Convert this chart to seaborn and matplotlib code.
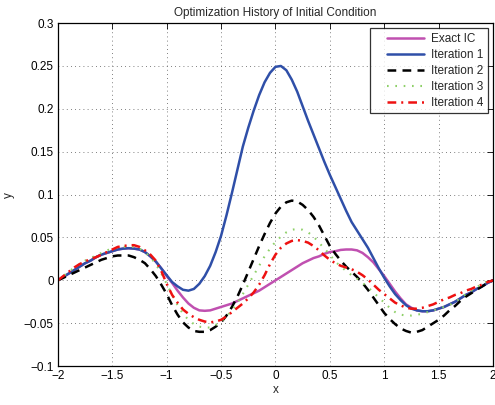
import numpy as np
import pandas as pd
import matplotlib
matplotlib.use("Agg")
import matplotlib.pyplot as plt
from matplotlib.legend_handler import HandlerLine2D
from matplotlib.lines import Line2D
import seaborn as sns

x = [-2.00, -1.95, -1.90, -1.85, -1.80, -1.75, -1.70, -1.65, -1.60, -1.55,
     -1.50, -1.45, -1.40, -1.35, -1.30, -1.25, -1.20, -1.15, -1.10, -1.05,
     -1.00, -0.95, -0.90, -0.85, -0.80, -0.75, -0.70, -0.65, -0.60, -0.55,
     -0.50, -0.45, -0.40, -0.35, -0.30, -0.25, -0.20, -0.15, -0.10, -0.05,
     0.00, 0.05, 0.10, 0.15, 0.20, 0.25, 0.30, 0.35, 0.40, 0.45,
     0.50, 0.55, 0.60, 0.65, 0.70, 0.75, 0.80, 0.85, 0.90, 0.95,
     1.00, 1.05, 1.10, 1.15, 1.20, 1.25, 1.30, 1.35, 1.40, 1.45,
     1.50, 1.55, 1.60, 1.65, 1.70, 1.75, 1.80, 1.85, 1.90, 1.95, 2.00]

exact_ic = [0.000, 0.004, 0.008, 0.012, 0.016, 0.020, 0.023, 0.027, 0.030, 0.032,
            0.034, 0.036, 0.037, 0.0375, 0.037, 0.036, 0.033, 0.028, 0.022, 0.014,
            0.005, -0.003, -0.012, -0.020, -0.027, -0.032, -0.035, -0.0355, -0.035, -0.033,
            -0.031, -0.029, -0.027, -0.024, -0.021, -0.018, -0.015, -0.012, -0.008, -0.004,
            0.000, 0.004, 0.008, 0.012, 0.016, 0.020, 0.023, 0.026, 0.028, 0.031,
            0.033, 0.034, 0.0355, 0.036, 0.036, 0.035, 0.032, 0.027, 0.021, 0.013,
            0.005, -0.004, -0.013, -0.021, -0.028, -0.032, -0.035, -0.036, -0.036, -0.035,
            -0.033, -0.031, -0.028, -0.025, -0.021, -0.017, -0.014, -0.010, -0.007, -0.003, 0.000]

iter1 = [0.000, 0.004, 0.008, 0.012, 0.016, 0.020, 0.023, 0.027, 0.030, 0.032,
         0.034, 0.036, 0.037, 0.0375, 0.037, 0.036, 0.033, 0.028, 0.022, 0.014,
         0.006, -0.002, -0.007, -0.011, -0.012, -0.010, -0.004, 0.005, 0.017, 0.033,
         0.052, 0.076, 0.102, 0.129, 0.156, 0.178, 0.198, 0.216, 0.231, 0.242,
         0.249, 0.250, 0.245, 0.234, 0.220, 0.203, 0.186, 0.170, 0.154, 0.138,
         0.123, 0.109, 0.095, 0.081, 0.068, 0.058, 0.048, 0.038, 0.026, 0.014,
         0.003, -0.007, -0.016, -0.023, -0.029, -0.033, -0.035, -0.036, -0.036, -0.035,
         -0.033, -0.031, -0.028, -0.025, -0.021, -0.017, -0.014, -0.010, -0.007, -0.003, 0.000]

iter2 = [0.000, 0.003, 0.006, 0.009, 0.012, 0.015, 0.018, 0.021, 0.024, 0.026,
         0.028, 0.029, 0.029, 0.029, 0.027, 0.024, 0.020, 0.013, 0.005, -0.005,
         -0.016, -0.029, -0.040, -0.049, -0.055, -0.059, -0.060, -0.060, -0.058, -0.054,
         -0.049, -0.041, -0.031, -0.019, -0.005, 0.010, 0.025, 0.040, 0.054, 0.067,
         0.078, 0.086, 0.091, 0.093, 0.092, 0.088, 0.082, 0.074, 0.064, 0.052,
         0.040, 0.031, 0.023, 0.016, 0.010, 0.004, -0.003, -0.011, -0.020, -0.029,
         -0.038, -0.045, -0.051, -0.056, -0.059, -0.061, -0.060, -0.058, -0.054, -0.050,
         -0.046, -0.041, -0.035, -0.030, -0.024, -0.019, -0.015, -0.011, -0.007, -0.003, 0.000]

iter3 = [0.000, 0.005, 0.010, 0.015, 0.019, 0.023, 0.026, 0.029, 0.032, 0.035,
         0.037, 0.038, 0.039, 0.0395, 0.039, 0.037, 0.033, 0.027, 0.019, 0.008,
         -0.004, -0.017, -0.029, -0.039, -0.046, -0.051, -0.054, -0.055, -0.055, -0.052,
         -0.048, -0.042, -0.035, -0.026, -0.016, -0.005, 0.006, 0.017, 0.028, 0.037,
         0.045, 0.051, 0.056, 0.059, 0.060, 0.059, 0.056, 0.051, 0.044, 0.037,
         0.030, 0.022, 0.016, 0.011, 0.006, 0.002, -0.003, -0.008, -0.014, -0.020,
         -0.026, -0.032, -0.037, -0.040, -0.041, -0.041, -0.040, -0.039, -0.037, -0.035,
         -0.033, -0.031, -0.029, -0.025, -0.021, -0.016, -0.012, -0.008, -0.004, -0.001, 0.000]

iter4 = [0.000, 0.005, 0.010, 0.015, 0.019, 0.022, 0.025, 0.027, 0.030, 0.033,
         0.036, 0.039, 0.040, 0.041, 0.041, 0.039, 0.035, 0.030, 0.023, 0.011,
         -0.004, -0.017, -0.026, -0.034, -0.039, -0.043, -0.046, -0.048, -0.049, -0.048,
         -0.046, -0.042, -0.037, -0.032, -0.027, -0.021, -0.014, -0.005, 0.006, 0.019,
         0.030, 0.038, 0.043, 0.046, 0.047, 0.046, 0.044, 0.040, 0.035, 0.029,
         0.024, 0.020, 0.017, 0.015, 0.013, 0.010, 0.006, 0.001, -0.005, -0.011,
         -0.016, -0.021, -0.026, -0.029, -0.032, -0.033, -0.033, -0.032, -0.030, -0.028,
         -0.025, -0.022, -0.020, -0.017, -0.015, -0.012, -0.010, -0.007, -0.005, -0.002, 0.000]

labels = ["Exact IC", "Iteration 1", "Iteration 2", "Iteration 3", "Iteration 4"]
x_ticks = [-2, -1.5, -1, -0.5, 0, 0.5, 1, 1.5, 2]
x_tick_labels = ["\u22122", "\u22121.5", "\u22121", "\u22120.5", "0", "0.5", "1", "1.5", "2"]
y_ticks = [-0.1, -0.05, 0, 0.05, 0.1, 0.15, 0.2, 0.25, 0.3]
y_tick_labels = ["\u22120.1", "\u22120.05", "0", "0.05", "0.1", "0.15", "0.2", "0.25", "0.3"]

sns.set_style("white")
plt.rcParams['font.family'] = ['Liberation Sans', 'DejaVu Sans']

fig = plt.figure(figsize=(4.95, 4.05), dpi=100)
ax = fig.add_axes([0.117, 0.096, 0.879, 0.847])

series = [exact_ic, iter1, iter2, iter3, iter4]
styles = [
    dict(color="#C050B0", linestyle="-", linewidth=1.8),
    dict(color="#2F4FA8", linestyle="-", linewidth=1.8),
    dict(color="black", linestyle=(0, (3.5, 2.5)), linewidth=1.8),
    dict(color="#8ED068", linestyle=(0, (0.8, 3.2)), linewidth=1.5),
    dict(color="#EE1111", linestyle=(0, (3.5, 2.0, 0.8, 2.0)), linewidth=1.8),
]
for vals, lab, st in zip(series, labels, styles):
    df = pd.DataFrame({"x": x, "y": vals})
    sns.lineplot(data=df, x="x", y="y", ax=ax, label=lab, **st)

ax.set_xlim(-2, 2)
ax.set_ylim(-0.1, 0.3)
ax.set_xticks(x_ticks)
ax.set_xticklabels(x_tick_labels)
ax.set_yticks(y_ticks)
ax.set_yticklabels(y_tick_labels)
ax.tick_params(direction="in", length=4, width=0.6, top=True, right=True,
               labelsize=8.5, pad=3, colors="black")
ax.grid(True, linestyle=(0, (1, 4)), color="#555555", linewidth=0.6)
for sp in ax.spines.values():
    sp.set_visible(True)
    sp.set_color("black")
    sp.set_linewidth(0.9)

ax.set_title("Optimization History of Initial Condition", fontsize=8.5, pad=5)
ax.set_xlabel("x", fontsize=8.5, labelpad=1)
ax.set_ylabel("y", fontsize=8.5, labelpad=6)


class RightLineHandler(HandlerLine2D):
    """Draw the legend sample only on the right part of the handle box (MATLAB-like)."""
    frac = 0.70
    gap = 0.06

    def create_artists(self, legend, orig_handle, xdescent, ydescent, width,
                       height, fontsize, trans):
        artists = super().create_artists(legend, orig_handle, xdescent, ydescent,
                                         width, height, fontsize, trans)
        for a in artists:
            if isinstance(a, Line2D):
                xd = list(a.get_xdata())
                if len(xd) >= 2:
                    span = xd[-1] - xd[0]
                    x1 = xd[-1] - self.gap * span
                    x0 = x1 - self.frac * span
                    a.set_xdata([x0, x1])
                    a.set_ydata([a.get_ydata()[0]] * 2)
        return artists


handles, labs = ax.get_legend_handles_labels()
leg = ax.legend(handles, labs, loc="upper right", fontsize=8.5, frameon=True,
                fancybox=False, edgecolor="black", handlelength=4.5, borderpad=0.4,
                labelspacing=0.33, handletextpad=0.25, borderaxespad=0.45,
                handler_map={Line2D: RightLineHandler()})
leg.get_frame().set_linewidth(0.9)

fig.savefig("out.png", dpi=100)
